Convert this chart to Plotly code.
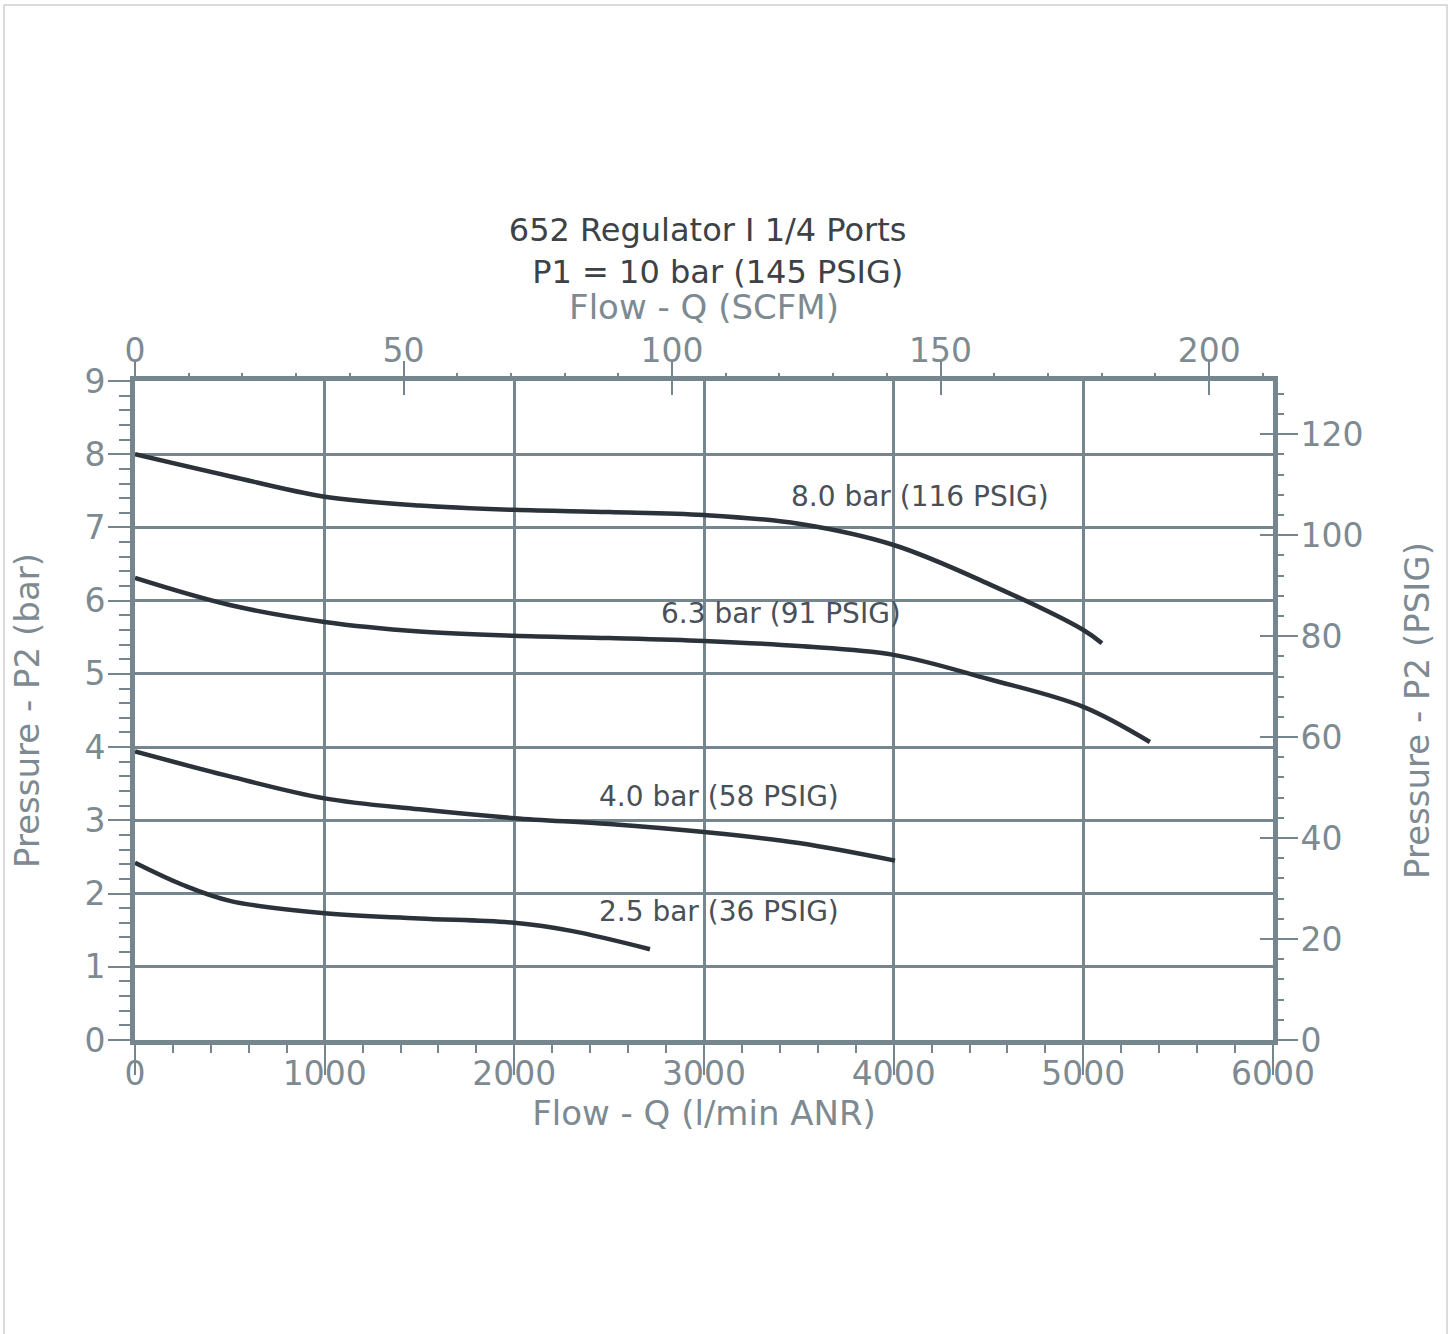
import plotly.graph_objects as go

# ---- data ----
flow_80 = [0, 500, 1000, 1500, 2000, 2500, 3000, 3500, 4000, 4500, 5000, 5098]
bar_80 = [8.0, 7.70, 7.42, 7.30, 7.24, 7.21, 7.17, 7.05, 6.76, 6.23, 5.60, 5.42]

flow_63 = [0, 500, 1000, 1500, 2000, 2500, 3000, 3500, 4000, 4500, 5000, 5351]
bar_63 = [6.31, 5.94, 5.71, 5.58, 5.52, 5.49, 5.45, 5.38, 5.26, 4.93, 4.55, 4.07]

flow_40 = [0, 500, 1000, 1500, 2000, 2500, 3000, 3500, 4007]
bar_40 = [3.94, 3.60, 3.30, 3.15, 3.03, 2.95, 2.84, 2.69, 2.45]

flow_25 = [0, 250, 500, 1000, 1500, 2000, 2300, 2715]
bar_25 = [2.42, 2.12, 1.90, 1.73, 1.66, 1.60, 1.49, 1.24]

series = [
    ("8.0 bar (116 PSIG)", flow_80, bar_80),
    ("6.3 bar (91 PSIG)", flow_63, bar_63),
    ("4.0 bar (58 PSIG)", flow_40, bar_40),
    ("2.5 bar (36 PSIG)", flow_25, bar_25),
]
label_x = [4139, 3406, 3080, 3080]
label_y = [7.42, 5.82, 3.33, 1.75]

x_ticks = [0, 1000, 2000, 3000, 4000, 5000, 6000]
y_ticks = [0, 1, 2, 3, 4, 5, 6, 7, 8, 9]
scfm_ticks = [0, 50, 100, 150, 200]
psig_ticks = [0, 20, 40, 60, 80, 100, 120]

LPM_PER_SCFM = 28.317
PSI_PER_BAR = 14.5038

AX = "#76868e"
TXT = "#7d8a91"
DARK = "#2b323a"
FONT = "DejaVu Sans, Verdana, sans-serif"

fig = go.Figure()
for name, fx, fy in series:
    fig.add_trace(go.Scatter(x=fx, y=fy, mode="lines", name=name,
                             line=dict(color=DARK, width=4.5, shape="spline", smoothing=1.0),
                             showlegend=False, hoverinfo="skip"))
# carrier traces so the secondary (SCFM / PSIG) axes are drawn
fig.add_trace(go.Scatter(x=[0], y=[0], xaxis="x2", yaxis="y2", mode="none",
                         showlegend=False, hoverinfo="skip"))
fig.add_trace(go.Scatter(x=[0], y=[0], xaxis="x3", yaxis="y3", mode="none",
                         showlegend=False, hoverinfo="skip"))

for (name, _, _), lx, ly in zip(series, label_x, label_y):
    fig.add_annotation(x=lx, y=ly, text=name, showarrow=False,
                       font=dict(family=FONT, size=28, color="#4a5057"))

tickfont = dict(family=FONT, size=33, color=TXT)
titlefont = dict(family=FONT, size=34, color=TXT)

fig.update_layout(
    width=1453, height=1334,
    paper_bgcolor="white", plot_bgcolor="white",
    margin=dict(l=135, r=180, t=381, b=294),
    title=dict(text="652 Regulator I 1/4 Ports<br>  P1 = 10 bar (145 PSIG)",
               x=0.487, xanchor="center", y=1 - 241 / 1334, yanchor="middle",
               yref="container",
               font=dict(family=FONT, size=32, color="#3d4247")),
    xaxis=dict(range=[0, 6000], tickvals=x_ticks, ticktext=[str(v) for v in x_ticks],
               showline=True, linewidth=5, linecolor=AX, mirror=True,
               showgrid=True, gridcolor=AX, gridwidth=3, zeroline=False,
               ticks="outside", ticklen=30, tickwidth=2, tickcolor=AX,
               ticklabelstandoff=-30,
               minor=dict(dtick=200, tick0=0, ticks="outside", ticklen=8, tickwidth=2,
                          tickcolor=AX, showgrid=False),
               tickfont=tickfont,
               title=dict(text="Flow - Q (l/min ANR)", font=titlefont, standoff=0)),
    xaxis2=dict(range=[0, 6000 / LPM_PER_SCFM], overlaying="x", side="top", anchor="y",
                tickvals=scfm_ticks, ticktext=[str(v) for v in scfm_ticks],
                showgrid=False, zeroline=False, showline=False,
                ticks="outside", ticklen=19, tickwidth=2, tickcolor=AX,
                ticklabelstandoff=-14,
                minor=dict(dtick=10, tick0=0, ticks="outside", ticklen=7, tickwidth=2,
                           tickcolor=AX, showgrid=False),
                tickfont=tickfont,
                title=dict(text="Flow - Q (SCFM)", font=titlefont, standoff=0)),
    xaxis3=dict(range=[0, 6000 / LPM_PER_SCFM], overlaying="x", side="top", anchor="y",
                tickvals=scfm_ticks, showticklabels=False,
                showgrid=False, zeroline=False, showline=False,
                ticks="inside", ticklen=14, tickwidth=2, tickcolor=AX),
    yaxis=dict(range=[0, 9], tickvals=y_ticks, ticktext=[str(v) for v in y_ticks],
               showline=True, linewidth=5, linecolor=AX, mirror=True,
               showgrid=True, gridcolor=AX, gridwidth=3, zeroline=False,
               ticks="outside", ticklen=22, tickwidth=2, tickcolor=AX,
               ticklabelstandoff=-4,
               minor=dict(dtick=0.2, tick0=0, ticks="outside", ticklen=11, tickwidth=2,
                          tickcolor=AX, showgrid=False),
               tickfont=tickfont,
               title=dict(text="Pressure - P2 (bar)", font=titlefont, standoff=36)),
    yaxis2=dict(range=[0, 9 * PSI_PER_BAR], overlaying="y", side="right", anchor="x",
                tickvals=psig_ticks, ticktext=[str(v) for v in psig_ticks],
                showgrid=False, zeroline=False, showline=False,
                ticks="outside", ticklen=24, tickwidth=2, tickcolor=AX,
                ticklabelstandoff=-4,
                minor=dict(dtick=4, tick0=0, ticks="outside", ticklen=10, tickwidth=2,
                           tickcolor=AX, showgrid=False),
                tickfont=tickfont,
                title=dict(text="Pressure - P2 (PSIG)", font=titlefont, standoff=42)),
    yaxis3=dict(range=[0, 9 * PSI_PER_BAR], overlaying="y", side="right", anchor="x",
                tickvals=psig_ticks, showticklabels=False,
                showgrid=False, zeroline=False, showline=False,
                ticks="inside", ticklen=13, tickwidth=2, tickcolor=AX),
)

# light page border
fig.add_shape(type="rect", xref="paper", yref="paper",
              x0=(4 - 135) / 1138, x1=(1447 - 135) / 1138,
              y0=(1040 - 1340) / 659, y1=(1040 - 5) / 659,
              line=dict(color="#cfcfcf", width=1.5), layer="below")

fig.write_html("out.html", config={"displayModeBar": False},
               post_script="document.body.style.margin='0';document.body.style.overflow='hidden';")
